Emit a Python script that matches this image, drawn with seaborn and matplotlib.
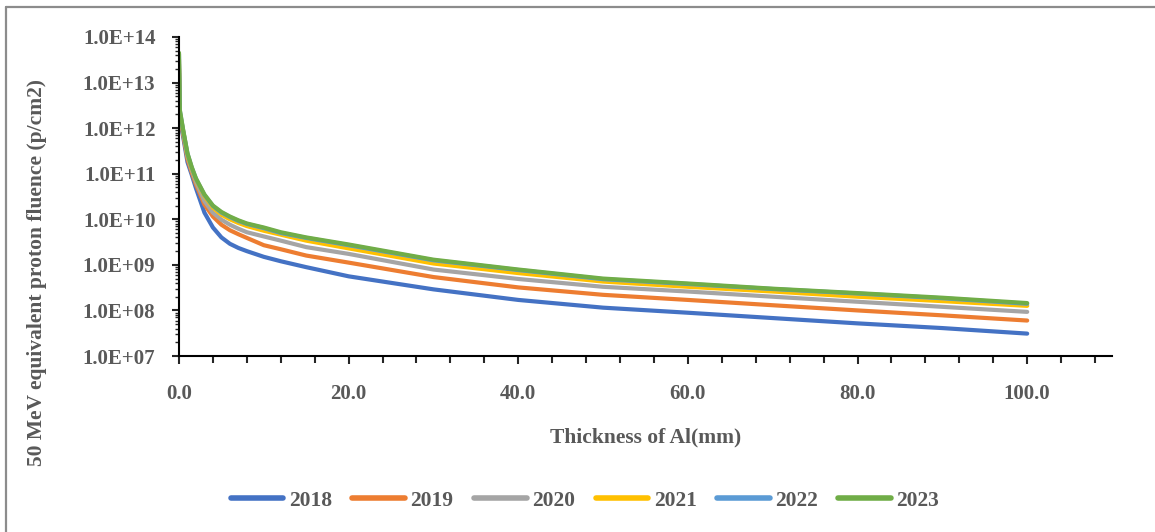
import numpy as np
import pandas as pd
import seaborn as sns
import matplotlib.pyplot as plt
from matplotlib.lines import Line2D
from matplotlib.ticker import FuncFormatter, LogLocator, MultipleLocator

# Al thickness (mm)
thickness = [0.0, 0.1, 0.5, 1.0, 1.5, 2.0, 3.0, 4.0, 5.0, 6.0, 7.0, 8.0,
             10.0, 12.0, 15.0, 20.0, 30.0, 40.0, 50.0, 60.0, 70.0, 80.0, 90.0, 100.0]

# 50 MeV equivalent proton fluence (p/cm2)
fluence_2018 = [1.6e13, 1.6e12, 6.3e11, 1.8e11, 9.5e10, 4.8e10, 1.4e10, 6.6e9, 4.0e9, 2.9e9, 2.35e9, 2.0e9,
                1.5e9, 1.2e9, 8.9e8, 5.6e8, 2.9e8, 1.7e8, 1.15e8, 8.9e7, 6.8e7, 5.2e7, 4.1e7, 3.1e7]
fluence_2019 = [2.0e13, 1.8e12, 7.1e11, 2.1e11, 1.07e11, 5.8e10, 2.1e10, 1.15e10, 7.6e9, 5.75e9, 4.7e9, 3.9e9,
                2.7e9, 2.2e9, 1.6e9, 1.12e9, 5.4e8, 3.2e8, 2.2e8, 1.7e8, 1.3e8, 1.0e8, 7.8e7, 6.0e7]
fluence_2020 = [2.5e13, 2.0e12, 7.9e11, 2.4e11, 1.2e11, 6.6e10, 2.5e10, 1.4e10, 9.8e9, 7.6e9, 6.2e9, 5.2e9,
                4.2e9, 3.4e9, 2.45e9, 1.74e9, 7.9e8, 4.9e8, 3.3e8, 2.6e8, 2.0e8, 1.55e8, 1.2e8, 9.3e7]
fluence_2021 = [3.2e13, 2.2e12, 8.5e11, 2.6e11, 1.3e11, 7.4e10, 3.2e10, 1.8e10, 1.26e10, 1.0e10, 8.3e9, 7.1e9,
                5.6e9, 4.6e9, 3.4e9, 2.3e9, 1.07e9, 6.6e8, 4.3e8, 3.3e8, 2.6e8, 2.0e8, 1.6e8, 1.26e8]
fluence_2022 = [4.2e13, 2.4e12, 8.7e11, 2.75e11, 1.37e11, 7.7e10, 3.4e10, 1.95e10, 1.4e10, 1.12e10, 9.2e9, 7.9e9,
                6.4e9, 5.0e9, 3.9e9, 2.7e9, 1.26e9, 7.7e8, 4.85e8, 3.8e8, 2.95e8, 2.35e8, 1.85e8, 1.4e8]
fluence_2023 = [4.5e13, 2.5e12, 8.9e11, 2.8e11, 1.4e11, 7.9e10, 3.5e10, 2.0e10, 1.45e10, 1.15e10, 9.5e9, 8.1e9,
                6.6e9, 5.2e9, 4.0e9, 2.8e9, 1.3e9, 7.9e8, 5.0e8, 3.9e8, 3.0e8, 2.4e8, 1.9e8, 1.45e8]

years = ['2018', '2019', '2020', '2021', '2022', '2023']
colors = ['#4472C4', '#ED7D31', '#A5A5A5', '#FFC000', '#5B9BD5', '#70AD47']
x_labels = ['0.0', '20.0', '40.0', '60.0', '80.0', '100.0']

all_fluence = [fluence_2018, fluence_2019, fluence_2020, fluence_2021, fluence_2022, fluence_2023]
df = pd.concat([pd.DataFrame({'Thickness': thickness, 'Fluence': f, 'Year': y})
                for y, f in zip(years, all_fluence)], ignore_index=True)

sns.set_theme(style="ticks")
plt.rcParams['font.family'] = ['Liberation Serif', 'DejaVu Serif']
text_color = '#595959'

fig = plt.figure(figsize=(11.55, 5.32), dpi=100)
ax = fig.add_axes([179 / 1155, 1 - 356 / 532, (1112 - 179) / 1155, (356 - 37) / 532])

sns.lineplot(data=df, x='Thickness', y='Fluence', hue='Year', hue_order=years,
             palette=colors, linewidth=3, sort=False, ax=ax, legend=True)

ax.set_yscale('log')
ax.set_ylim(1e7, 1e14)
ax.set_xlim(0, 110)

ax.yaxis.set_major_locator(LogLocator(base=10, numticks=10))
ax.yaxis.set_minor_locator(LogLocator(base=10, subs=np.arange(2, 10), numticks=100))
ax.yaxis.set_major_formatter(FuncFormatter(lambda v, p: f"1.0E+{int(round(np.log10(v))):02d}"))
ax.yaxis.set_minor_formatter(FuncFormatter(lambda v, p: ''))

ax.xaxis.set_minor_locator(MultipleLocator(4))
ax.set_xticks(range(0, 101, 20))
ax.set_xticklabels(x_labels)

for spine in ['top', 'right']:
    ax.spines[spine].set_visible(False)
for spine in ['left', 'bottom']:
    ax.spines[spine].set_linewidth(1.5)
    ax.spines[spine].set_color('black')

ax.tick_params(axis='y', which='major', direction='out', length=5, width=1.5, pad=12,
               labelsize=15, labelcolor=text_color)
ax.tick_params(axis='y', which='minor', direction='out', length=3, width=1.0)
ax.tick_params(axis='x', which='major', direction='out', length=6, width=1.5, pad=14,
               labelsize=15, labelcolor=text_color)
ax.tick_params(axis='x', which='minor', direction='out', length=5, width=1.5)
for lbl in ax.get_xticklabels() + ax.get_yticklabels():
    lbl.set_fontweight('bold')

ax.set_xlabel('')
ax.set_ylabel('')
fig.text(646 / 1155, 1 - 437 / 532, 'Thickness of Al(mm)', ha='center', va='center',
         fontsize=15.5, fontweight='bold', color=text_color)
fig.text(37 / 1155, 1 - 272 / 532, '50 MeV equivalent proton fluence (p/cm2)', ha='center', va='center',
         rotation=90, fontsize=15.5, fontweight='bold', color=text_color)

handles, labels = ax.get_legend_handles_labels()
ax.get_legend().remove()
for h in handles:
    h.set_linewidth(4)
leg = fig.legend(handles, labels, loc='center', bbox_to_anchor=(585 / 1155, 1 - 501 / 532), ncol=6,
                 frameon=False, handlelength=2.45, handletextpad=0.25, columnspacing=0.95,
                 prop={'size': 15.5, 'weight': 'bold'})
for t in leg.get_texts():
    t.set_color(text_color)

# chart border (top and left edges visible in the reference)
fig.add_artist(Line2D([5.5 / 1155, 5.5 / 1155], [0, 1 - 7 / 532], transform=fig.transFigure,
                      color='#8c8c8c', linewidth=1.6))
fig.add_artist(Line2D([5.5 / 1155, 1], [1 - 7 / 532, 1 - 7 / 532], transform=fig.transFigure,
                      color='#8c8c8c', linewidth=1.6))

fig.savefig('out.png', dpi=100)
